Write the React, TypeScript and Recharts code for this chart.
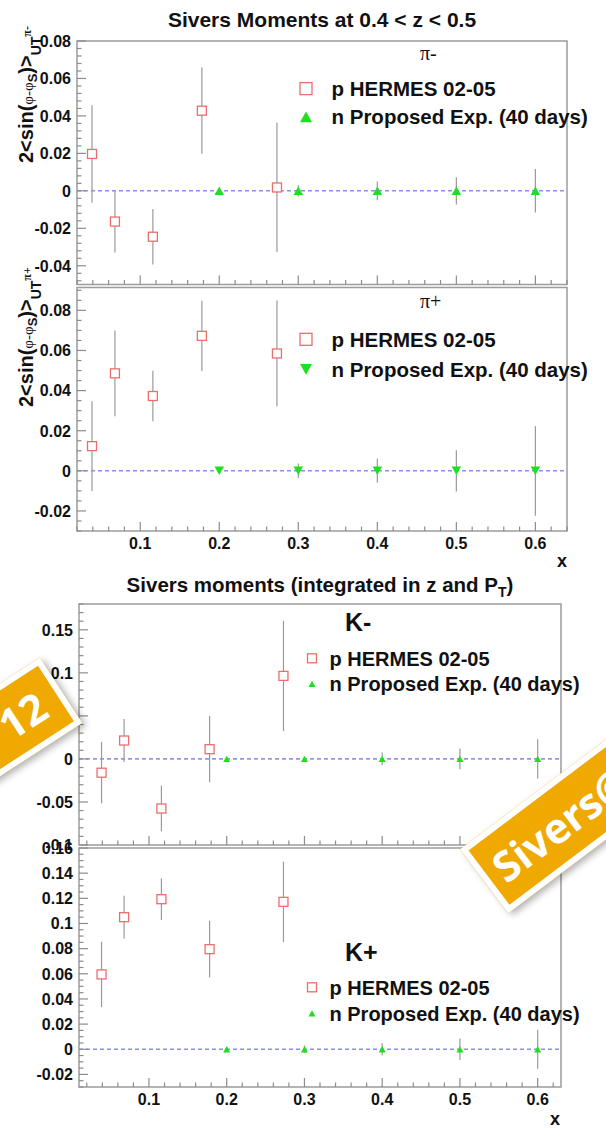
import {
  ScatterChart, Scatter, XAxis, YAxis, ErrorBar, ReferenceLine, ReferenceArea,
} from 'recharts';

const FONT = '"Liberation Sans", Arial, Helvetica, sans-serif';
const SERIF = '"Liberation Serif", "DejaVu Serif", serif';

// x bins
const hermesX = [0.039, 0.068, 0.116, 0.178, 0.273];
const projX = [0.2, 0.3, 0.4, 0.5, 0.6];
const xMajor = [0.1, 0.2, 0.3, 0.4, 0.5, 0.6];

// pi- at 0.4 < z < 0.5
const piMinusHermes = [0.0197, -0.0164, -0.0245, 0.0428, 0.0018];
const piMinusHermesErr = [0.026, 0.0165, 0.0148, 0.023, 0.0345];
const piMinusProj = [0, 0, 0, 0, 0];
const piMinusProjErr = [0.0015, 0.003, 0.005, 0.0073, 0.0116];
const piMinusYMajor = [-0.04, -0.02, 0, 0.02, 0.04, 0.06, 0.08];

// pi+ at 0.4 < z < 0.5
const piPlusHermes = [0.0123, 0.0486, 0.0373, 0.0673, 0.0585];
const piPlusHermesErr = [0.0224, 0.0214, 0.0126, 0.0175, 0.0264];
const piPlusProj = [0, 0, 0, 0, 0];
const piPlusProjErr = [0.0015, 0.0036, 0.006, 0.0103, 0.0224];
const piPlusYMajor = [-0.02, 0, 0.02, 0.04, 0.06, 0.08];

// K- integrated in z and PT
const kMinusHermes = [-0.016, 0.0214, -0.0576, 0.0113, 0.0965];
const kMinusHermesErr = [0.0356, 0.025, 0.0265, 0.0385, 0.064];
const kMinusProj = [0, 0, 0, 0, 0];
const kMinusProjErr = [0.002, 0.003, 0.0074, 0.012, 0.0228];
const kMinusYMajor = [-0.1, -0.05, 0, 0.05, 0.1, 0.15];

// K+ integrated in z and PT
const kPlusHermes = [0.0595, 0.105, 0.1193, 0.0796, 0.1172];
const kPlusHermesErr = [0.026, 0.017, 0.0166, 0.0225, 0.032];
const kPlusProj = [0, 0, 0, 0, 0];
const kPlusProjErr = [0.0015, 0.003, 0.005, 0.0086, 0.0155];
const kPlusYMajor = [-0.02, 0, 0.02, 0.04, 0.06, 0.08, 0.1, 0.12, 0.14, 0.16];

type Pt = { x: number; y: number; err: number };

const rows = (xs: number[], ys: number[], errs: number[]): Pt[] =>
  xs.map((x, i) => ({ x, y: ys[i], err: errs[i] }));

// minor tick positions, multiples of step inside [lo, hi]
const steps = (lo: number, hi: number, step: number) => {
  const out: number[] = [];
  for (let i = Math.ceil(lo / step - 1e-6); i * step <= hi + 1e-9; i++) out.push(+(i * step).toFixed(4));
  return out;
};

const fmt = (v: number) => String(Number(v.toFixed(3)));
const isMajor = (v: number, majors: number[]) => majors.some((m) => Math.abs(m - v) < 1e-6);

const TICK = '#8c8c8c';
const RED = '#ee6c6c';
const GREEN = '#1fe01f';

function YTick({ x, y, payload, majors }: any) {
  const major = isMajor(payload.value, majors);
  return (
    <g>
      <line x1={x} x2={x + (major ? 9 : 4.5)} y1={y} y2={y} stroke={TICK} strokeWidth={1.2} />
      {major && (
        <text x={x - 6} y={y + 5.8} textAnchor="end" fontFamily={FONT} fontWeight="bold" fontSize={16} fill="#111">
          {fmt(payload.value)}
        </text>
      )}
    </g>
  );
}

function XTick({ x, y, payload, labels }: any) {
  const major = isMajor(payload.value, xMajor);
  return (
    <g>
      <line x1={x} x2={x} y1={y} y2={y - (major ? 9 : 4.5)} stroke={TICK} strokeWidth={1.2} />
      {major && labels && (
        <text x={x} y={y + 18} textAnchor="middle" fontFamily={FONT} fontWeight="bold" fontSize={16} fill="#111">
          {fmt(payload.value)}
        </text>
      )}
    </g>
  );
}

const squareShape = (size: number) => (p: any) => (
  <rect x={p.cx - size / 2} y={p.cy - size / 2} width={size} height={size}
    fill="#fff" stroke={RED} strokeWidth={1.3} />
);

const triangleShape = (size: number, down: boolean) => (p: any) => {
  const { cx, cy } = p;
  const h = size * 0.9;
  const pts = down
    ? `${cx - size / 2},${cy - h / 2} ${cx + size / 2},${cy - h / 2} ${cx},${cy + h / 2}`
    : `${cx - size / 2},${cy + h / 2} ${cx + size / 2},${cy + h / 2} ${cx},${cy - h / 2}`;
  return <polygon points={pts} fill={GREEN} />;
};

type PanelProps = {
  top: number;
  plotTop: number;
  plotBottom: number;
  xAxisH: number;
  plotLeft: number;
  plotRight: number;
  xDomain: [number, number];
  yDomain: [number, number];
  yStep: number;
  yMajor: number[];
  xLabels: boolean;
  hermes: Pt[];
  proj: Pt[];
  zeroColor: string;
  zeroWidth: number;
  sq: number;
  tri: number;
  down?: boolean;
};

function Panel(props: PanelProps) {
  const {
    top, plotTop, plotBottom, xAxisH, plotLeft, plotRight, xDomain, yDomain, yStep, yMajor,
    xLabels, hermes, proj, zeroColor, zeroWidth, sq, tri, down,
  } = props;
  const height = plotBottom - top + xAxisH;
  return (
    <div style={{ position: 'absolute', left: 0, top }}>
      <ScatterChart width={606} height={height}
        margin={{ top: plotTop - top, right: 606 - plotRight, bottom: 0, left: 0 }}>
        <XAxis type="number" dataKey="x" domain={xDomain} allowDataOverflow
          ticks={steps(xDomain[0], xDomain[1], 0.02)} interval={0} height={xAxisH}
          tickSize={0} tickMargin={0} axisLine={false} tickLine={false}
          tick={(p: any) => <XTick {...p} labels={xLabels} />} />
        <YAxis type="number" dataKey="y" domain={yDomain} allowDataOverflow
          ticks={steps(yDomain[0], yDomain[1], yStep)} interval={0} width={plotLeft}
          tickSize={0} tickMargin={0} axisLine={false} tickLine={false}
          tick={(p: any) => <YTick {...p} majors={yMajor} />} />
        <ReferenceArea x1={xDomain[0]} x2={xDomain[1]} y1={yDomain[0]} y2={yDomain[1]}
          fill="none" stroke="#9c9c9c" strokeWidth={1.5} />
        <ReferenceLine y={0} stroke={zeroColor} strokeWidth={zeroWidth} strokeDasharray="4 3" />
        <Scatter data={hermes} shape={squareShape(sq)} isAnimationActive={false}>
          <ErrorBar dataKey="err" direction="y" width={0} stroke="#9a9a9a" strokeWidth={1.2} />
        </Scatter>
        <Scatter data={proj} shape={triangleShape(tri, !!down)} isAnimationActive={false}>
          <ErrorBar dataKey="err" direction="y" width={0} stroke="#9a9a9a" strokeWidth={1.2} />
        </Scatter>
      </ScatterChart>
    </div>
  );
}

function AsymTitle({ x, y, hadron }: { x: number; y: number; hadron: string }) {
  return (
    <text transform={`translate(${x},${y}) rotate(-90)`} fontFamily={FONT} fontWeight="bold" fontSize={20} fill="#111">
      {'2<sin('}
      <tspan fontFamily={SERIF} fontWeight="normal" fontSize={15}>φ-φ</tspan>
      <tspan fontSize={13} dy={4}>S</tspan>
      <tspan dy={-4}>{')>'}</tspan>
      <tspan fontSize={14} dy={8}>UT</tspan>
      <tspan fontFamily={SERIF} fontSize={12} dy={-10}>{hadron}</tspan>
    </text>
  );
}

function LegendBlock({ x, headX, yHead, head, headSize, headFont, yP, yN, mx, msq, mtri, down, size }: any) {
  return (
    <g>
      <text x={headX} y={yHead} fontFamily={headFont} fontWeight={headFont === SERIF ? 'normal' : 'bold'}
        fontSize={headSize} fill="#111">{head}</text>
      <rect x={mx - msq / 2} y={yP - size * 0.36 - msq / 2} width={msq} height={msq} fill="#fff" stroke={RED} strokeWidth={1.3} />
      {triangleShape(mtri, down)({ cx: mx, cy: yN - size * 0.36 })}
      <text x={x} y={yP} fontFamily={FONT} fontWeight="bold" fontSize={size} fill="#111">p HERMES 02-05</text>
      <text x={x} y={yN} fontFamily={FONT} fontWeight="bold" fontSize={size} fill="#111">n Proposed Exp. (40 days)</text>
    </g>
  );
}

function Badge({ left, top, width, height, angle, text, align, pad }: any) {
  return (
    <div style={{
      position: 'absolute', left, top, width, height, boxSizing: 'border-box',
      transform: `rotate(${angle}deg)`, background: '#efa900', border: '6px solid #fff',
      boxShadow: '2px 4px 7px rgba(0,0,0,0.3)', color: '#fff',
      fontFamily: '"Open Sans", sans-serif', fontWeight: 700, fontSize: 42,
      lineHeight: `${height - 12}px`, textAlign: align, whiteSpace: 'nowrap', overflow: 'hidden',
      paddingLeft: align === 'left' ? pad : 0, paddingRight: align === 'right' ? pad : 0,
    }}>{text}</div>
  );
}

export default function App() {
  return (
    <div style={{ position: 'absolute', left: 0, top: 0, width: 606, height: 1131, overflow: 'hidden', background: '#fff' }}>
      <Panel top={0} plotTop={41} plotBottom={284.5} xAxisH={5} plotLeft={77} plotRight={567}
        xDomain={[0.02, 0.64]} yDomain={[-0.05, 0.08]} yStep={0.004} yMajor={piMinusYMajor} xLabels={false}
        hermes={rows(hermesX, piMinusHermes, piMinusHermesErr)} proj={rows(projX, piMinusProj, piMinusProjErr)}
        zeroColor="#8e8ef2" zeroWidth={1.5} sq={9} tri={9.5} />
      <Panel top={280} plotTop={287.5} plotBottom={531} xAxisH={40} plotLeft={77} plotRight={567}
        xDomain={[0.02, 0.64]} yDomain={[-0.03, 0.0914]} yStep={0.005} yMajor={piPlusYMajor} xLabels
        hermes={rows(hermesX, piPlusHermes, piPlusHermesErr)} proj={rows(projX, piPlusProj, piPlusProjErr)}
        zeroColor="#8e8ef2" zeroWidth={1.5} sq={9} tri={9.5} down />
      <Panel top={560} plotTop={604} plotBottom={845} xAxisH={5} plotLeft={79} plotRight={561}
        xDomain={[0.01, 0.63]} yDomain={[-0.1, 0.18]} yStep={0.01} yMajor={kMinusYMajor} xLabels={false}
        hermes={rows(hermesX, kMinusHermes, kMinusHermesErr)} proj={rows(projX, kMinusProj, kMinusProjErr)}
        zeroColor="#4848c8" zeroWidth={1} sq={9} tri={7} />
      <Panel top={840} plotTop={848} plotBottom={1087} xAxisH={40} plotLeft={79} plotRight={561}
        xDomain={[0.01, 0.63]} yDomain={[-0.03, 0.16]} yStep={0.005} yMajor={kPlusYMajor} xLabels
        hermes={rows(hermesX, kPlusHermes, kPlusHermesErr)} proj={rows(projX, kPlusProj, kPlusProjErr)}
        zeroColor="#8e8ef2" zeroWidth={1.5} sq={9} tri={7} />

      <svg width={606} height={1131} style={{ position: 'absolute', left: 0, top: 0, pointerEvents: 'none' }}>
        <text x={322} y={26.5} textAnchor="middle" fontFamily={FONT} fontWeight="bold" fontSize={21} fill="#111">
          {'Sivers Moments at 0.4 < z < 0.5'}
        </text>
        <text x={320} y={591.5} textAnchor="middle" fontFamily={FONT} fontWeight="bold" fontSize={20.5} fill="#111">
          Sivers moments (integrated in z and P<tspan fontSize={14} dy={5}>T</tspan><tspan dy={-5}>)</tspan>
        </text>

        <AsymTitle x={33} y={163} hadron="π-" />
        <AsymTitle x={33} y={407} hadron="π+" />

        <LegendBlock x={331.5} headX={420} yHead={60} head="π-" headSize={20} headFont={SERIF}
          yP={96} yN={124.3} mx={306} msq={12} mtri={12} size={20.5} />
        <LegendBlock x={331.5} headX={420} yHead={308} head="π+" headSize={20} headFont={SERIF}
          yP={346.7} yN={376.7} mx={306} msq={12} mtri={12} size={20.5} down />
        <LegendBlock x={329.5} headX={345} yHead={631} head="K-" headSize={25} headFont={FONT}
          yP={665.5} yN={691} mx={312} msq={9} mtri={7} size={20} />
        <LegendBlock x={329.5} headX={345} yHead={961} head="K+" headSize={25} headFont={FONT}
          yP={994.5} yN={1020.5} mx={312} msq={9} mtri={7} size={20} />

        <text x={562} y={567} textAnchor="middle" fontFamily={FONT} fontWeight="bold" fontSize={18} fill="#111">x</text>
        <text x={555} y={1125} textAnchor="middle" fontFamily={FONT} fontWeight="bold" fontSize={18} fill="#111">x</text>
      </svg>

      <Badge left={-178} top={722} width={260} height={78} angle={-33} text="12" align="right" pad={16} />
      <Badge left={454} top={751} width={300} height={80} angle={-37} text="Sivers@" align="left" pad={10} />
    </div>
  );
}
